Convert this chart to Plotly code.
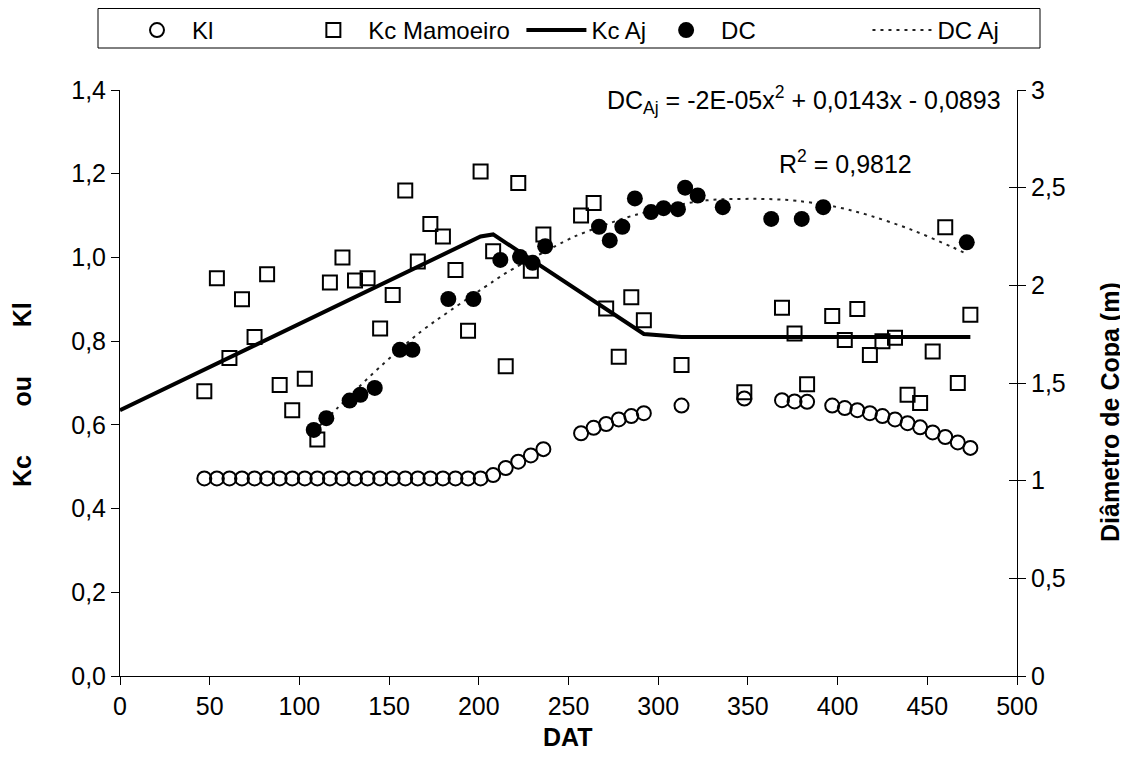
import plotly.graph_objects as go

# ---------------- data ----------------
dat = [47, 54, 61, 68, 75, 82, 89, 96, 103, 110, 117, 124, 131, 138, 145, 152, 159, 166, 173, 180,
       187, 194, 201, 208, 215, 222, 229, 236, 257, 264, 271, 278, 285, 292, 313, 348, 369, 376, 383,
       397, 404, 411, 418, 425, 432, 439, 446, 453, 460, 467, 474]

kl = [0.472, 0.472, 0.472, 0.472, 0.472, 0.472, 0.472, 0.472, 0.472, 0.472, 0.472, 0.472, 0.472,
      0.472, 0.472, 0.472, 0.472, 0.472, 0.472, 0.472, 0.472, 0.472, 0.472,
      0.48, 0.497, 0.512, 0.527, 0.542,
      0.58, 0.593, 0.602, 0.613, 0.621, 0.628,
      0.646, 0.663,
      0.659, 0.656, 0.655,
      0.646, 0.64, 0.635, 0.628, 0.621, 0.613, 0.604, 0.594, 0.582, 0.571, 0.558, 0.545]

kc_mamoeiro = [0.68, 0.95, 0.76, 0.90, 0.81, 0.96, 0.695, 0.635, 0.71, 0.565,
               0.94, 1.0, 0.945, 0.95, 0.83, 0.91, 1.16, 0.99, 1.08, 1.05,
               0.97, 0.825, 1.205, 1.015, 0.74, 1.178, 0.968, 1.055,
               1.10, 1.13, 0.878, 0.763, 0.905, 0.85,
               0.743, 0.678,
               0.88, 0.818, 0.697,
               0.86, 0.803, 0.877, 0.767, 0.80, 0.808, 0.672, 0.652, 0.775, 1.072, 0.70, 0.863]

kc_aj_x = [0, 201, 208, 292, 313, 474]
kc_aj_y = [0.635, 1.05, 1.055, 0.817, 0.81, 0.81]

dc_x = [108, 115, 128, 134, 142, 156, 163, 183, 197, 212, 223, 230, 237, 267, 273, 280, 287,
        296, 303, 311, 315, 322, 336, 363, 380, 392, 472]
dc_y = [1.26, 1.32, 1.41, 1.44, 1.475, 1.67, 1.67, 1.93, 1.93, 2.13, 2.145, 2.115, 2.20, 2.30,
        2.23, 2.30, 2.445, 2.375, 2.395, 2.39, 2.50, 2.46, 2.40, 2.34, 2.34, 2.40, 2.22]

dc_aj_x = [108, 121, 147, 168, 184, 208, 216, 250, 256, 289, 327, 345, 360, 377, 400, 418, 441,
           464, 472]
dc_aj_y = [1.25, 1.37, 1.60, 1.765, 1.87, 2.02, 2.068, 2.235, 2.26, 2.365, 2.435, 2.442, 2.442,
           2.433, 2.40, 2.357, 2.285, 2.195, 2.16]

x_ticks = list(range(0, 501, 50))
left_ticks = [0.0, 0.2, 0.4, 0.6, 0.8, 1.0, 1.2, 1.4]
right_ticks = [0, 0.5, 1, 1.5, 2, 2.5, 3]

FONT = "Liberation Sans, Arial, sans-serif"
NB = "\u00a0"

# the page body has an 8px margin, so the figure is sized to fit the window
W, H = 1120, 767
L, R, T, B = 112, 111, 82, 99
PW, PH = W - L - R, H - T - B


def px_x(p):  # figure pixel -> paper x
    return (p - L) / PW


def px_y(p):  # figure pixel -> paper y
    return (H - B - p) / PH


fig = go.Figure()

fig.add_trace(go.Scatter(
    x=dat, y=kl, mode="markers", name="Kl" + NB * 12,
    marker=dict(symbol="circle-open", size=14, color="black", line=dict(width=2, color="black"))))

fig.add_trace(go.Scatter(
    x=dat, y=kc_mamoeiro, mode="markers", name="Kc Mamoeiro" + NB,
    marker=dict(symbol="square-open", size=14, color="black", line=dict(width=2, color="black"))))

fig.add_trace(go.Scatter(
    x=kc_aj_x, y=kc_aj_y, mode="lines", name="Kc Aj",
    line=dict(color="black", width=4)))

fig.add_trace(go.Scatter(
    x=dc_aj_x, y=dc_aj_y, mode="lines", name="DC Aj", yaxis="y2",
    line=dict(color="#222222", width=2, dash="3px,5px", shape="spline"), legendrank=5))

fig.add_trace(go.Scatter(
    x=dc_x, y=dc_y, mode="markers", name="DC" + NB * 16, yaxis="y2",
    marker=dict(symbol="circle", size=16, color="black"), legendrank=4))

# invisible helper for the crossing ticks on the right axis
fig.add_trace(go.Scatter(x=[None], y=[None], yaxis="y3", showlegend=False, hoverinfo="skip"))

for i, tr in enumerate(fig.data[:3]):
    tr.legendrank = i + 1

fig.update_layout(
    width=W, height=H,
    margin=dict(l=L, r=R, t=T, b=B),
    paper_bgcolor="white", plot_bgcolor="white",
    separators=",.",
    font=dict(family=FONT, color="black", size=24),
    showlegend=True,
    legend=dict(
        orientation="h", xref="container", yref="container",
        x=114 / W, xanchor="left", y=1, yanchor="top",
        borderwidth=0, bgcolor="rgba(0,0,0,0)",
        font=dict(size=24, family=FONT), itemwidth=60, traceorder="normal"),
    xaxis=dict(
        range=[0, 500], tickvals=x_ticks, ticks="outside", ticklen=8, tickcolor="black",
        showline=True, linecolor="black", linewidth=1, showgrid=False, zeroline=False,
        tickfont=dict(size=25)),
    yaxis=dict(
        range=[0, 1.4], tickvals=left_ticks, tickformat=".1f", ticks="outside", ticklen=8,
        tickcolor="black", showline=True, linecolor="black", linewidth=1, showgrid=False,
        zeroline=False, tickfont=dict(size=25)),
    yaxis2=dict(
        range=[0, 3], tickvals=right_ticks, overlaying="y", side="right", ticks="outside",
        ticklen=8, tickcolor="black", showline=True, linecolor="black", linewidth=1,
        showgrid=False, zeroline=False, tickfont=dict(size=25)),
    yaxis3=dict(
        range=[0, 3], tickvals=right_ticks, overlaying="y", side="right", ticks="inside",
        ticklen=8, tickcolor="black", showticklabels=False, showline=False, showgrid=False,
        zeroline=False),
)

# legend frame
fig.add_shape(type="rect", xref="paper", yref="paper",
              x0=px_x(90), x1=px_x(1032), y0=px_y(0.5), y1=px_y(40),
              line=dict(color="black", width=1), fillcolor="rgba(0,0,0,0)", layer="below")

# axis titles
fig.add_annotation(xref="paper", yref="paper", x=px_x(560), y=px_y(729),
                   text="<b>DAT</b>", showarrow=False, font=dict(size=25),
                   xanchor="center", yanchor="middle")
fig.add_annotation(xref="paper", yref="paper", x=px_x(14), y=px_y(387),
                   text="<b>Kc" + NB * 7 + "ou" + NB * 7 + "Kl</b>", showarrow=False,
                   font=dict(size=25), textangle=-90, xanchor="center", yanchor="middle")
fig.add_annotation(xref="paper", yref="paper", x=px_x(1102), y=px_y(404),
                   text="<b>Diâmetro de Copa (m)</b>", showarrow=False,
                   font=dict(size=25), textangle=-90, xanchor="center", yanchor="middle")

# trendline equation
fig.add_annotation(
    xref="paper", yref="paper", x=px_x(995), y=px_y(92), xanchor="right", yanchor="middle",
    text="DC<sub>Aj</sub> = -2E-05x<sup>2</sup> + 0,0143x - 0,0893", showarrow=False,
    font=dict(size=25, family=FONT))
fig.add_annotation(
    xref="paper", yref="paper", x=px_x(837), y=px_y(154), xanchor="center", yanchor="middle",
    text="R<sup>2</sup> = 0,9812", showarrow=False, font=dict(size=25, family=FONT))

fig.write_html("out.html")
